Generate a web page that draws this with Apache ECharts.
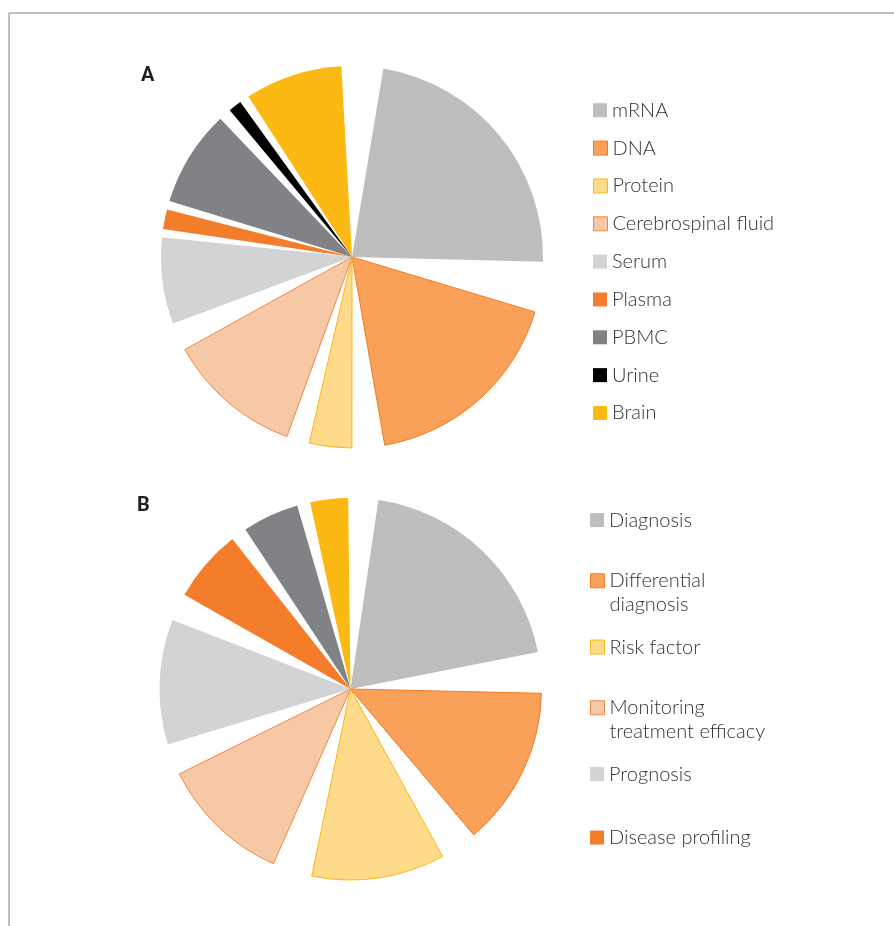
<!DOCTYPE html>
<html>
<head>
<meta charset="utf-8">
<title>Biomarker pies</title>
<script src="https://cdn.jsdelivr.net/npm/echarts@6/dist/echarts.min.js"></script>
<style>
  html, body { margin: 0; padding: 0; background: #fff; }
  #chart { width: 894px; height: 926px; }
</style>
</head>
<body>
<div id="chart"></div>
<script>
// panel A: sample source (values are angles, gaps = empty wedge after each slice)
const sourceNames = ['mRNA', 'DNA', 'Protein', 'Cerebrospinal fluid', 'Serum', 'Plasma', 'PBMC', 'Urine', 'Brain'];
const sourceValues = [82, 63.4, 12.9, 41.1, 26.3, 6, 29.4, 4, 29.7];
const sourceGaps = [15.3, 9.9, 7, 8.6, 2.5, 2.6, 3.8, 2.9, 12.65];

// panel B: purpose (last two slices have their legend cut off in the source)
const purposeNames = ['Diagnosis', 'Differential diagnosis', 'Risk factor', 'Monitoring treatment efficacy',
  'Prognosis', 'Disease profiling', 'Unlabelled 1', 'Unlabelled 2'];
const purposeLabels = ['Diagnosis', 'Differential\ndiagnosis', 'Risk factor', 'Monitoring\ntreatment efficacy',
  'Prognosis', 'Disease profiling'];
const purposeValues = [70.4, 48.5, 40.5, 39.8, 38.1, 22.2, 17.2, 11.5];
const purposeGaps = [12.5, 11.4, 12.1, 9.5, 8.4, 4.8, 4, 9.1];

// slice styles
const GREY = { color: '#bcbec0' };
const ORANGE_LIGHT = { color: '#f9a159', borderColor: '#f47b20', borderWidth: 1 };
const YELLOW_LIGHT = { color: '#fddb8a', borderColor: '#fbb615', borderWidth: 1 };
const PEACH = { color: '#f7c8a6', borderColor: '#f28743', borderWidth: 1 };
const GREY_LIGHT = { color: '#d1d3d4' };
const ORANGE = { color: '#f47d2c' };
const GREY_DARK = { color: '#808285' };
const BLACK = { color: '#000000' };
const YELLOW = { color: '#fdb913' };

const sourceStyles = [GREY, ORANGE_LIGHT, YELLOW_LIGHT, PEACH, GREY_LIGHT, ORANGE, GREY_DARK, BLACK, YELLOW];
const purposeStyles = [GREY, ORANGE_LIGHT, YELLOW_LIGHT, PEACH, GREY_LIGHT, ORANGE, GREY_DARK, YELLOW];

function pieData(prefix, names, values, gaps, styles) {
  const out = [];
  names.forEach(function (n, i) {
    out.push({ name: n, value: values[i], itemStyle: Object.assign({ borderWidth: 0 }, styles[i]) });
    out.push({
      name: prefix + '-gap' + i, value: gaps[i],
      itemStyle: { color: 'transparent', borderWidth: 0 },
      emphasis: { disabled: true }, tooltip: { show: false }
    });
  });
  return out;
}

// one legend per entry so each row sits where the original puts it.
// text is centred on the icon, so two-line labels get an empty first line
// to keep the icon level with the first real line.
const LINE_H = 23.5;
function legendRows(names, labels, styles, left, firstCenter, step) {
  return labels.map(function (label, i) {
    const multi = label.indexOf('\n') >= 0;
    const centre = firstCenter + i * step + (multi ? 2 : 1.75);
    return {
      data: [names[i]],
      left: left,
      top: multi ? centre - 1.5 * LINE_H : centre - 7,
      orient: 'vertical',
      padding: 0,
      icon: 'rect',
      itemWidth: 14,
      itemHeight: 14,
      itemTextGap: 5,
      selectedMode: false,
      itemStyle: { borderWidth: styles[i].borderWidth || 0 },
      formatter: function () { return multi ? '\n' + label : label; },
      textStyle: {
        fontFamily: 'Lato', fontSize: 20, fontWeight: 300, color: '#333',
        lineHeight: multi ? LINE_H : 14
      }
    };
  });
}

const chart = echarts.init(document.getElementById('chart'), null, { renderer: 'canvas' });

chart.setOption({
  animation: false,
  backgroundColor: '#fff',
  title: [
    { text: 'A', left: 141, top: 65.5, padding: 0, textStyle: { fontFamily: 'Roboto', fontSize: 20, fontWeight: 'bold', color: '#231f20' } },
    { text: 'B', left: 137, top: 495.5, padding: 0, textStyle: { fontFamily: 'Roboto', fontSize: 20, fontWeight: 'bold', color: '#231f20' } }
  ],
  legend: legendRows(sourceNames, sourceNames, sourceStyles, 593, 105.5, 37.84)
    .concat(legendRows(purposeNames, purposeLabels, purposeStyles, 590, 515.3, 63.5)),
  graphic: [
    { type: 'line', shape: { x1: 9, y1: 13, x2: 894, y2: 13 }, style: { stroke: '#aaaaaa', lineWidth: 1.5 } },
    { type: 'line', shape: { x1: 9, y1: 13, x2: 9, y2: 926 }, style: { stroke: '#aaaaaa', lineWidth: 1.5 } }
  ],
  series: [
    {
      name: 'Source',
      type: 'pie',
      center: [352, 257],
      radius: [0, 191],
      startAngle: 90 - 9.45,
      clockwise: true,
      label: { show: false },
      labelLine: { show: false },
      itemStyle: { borderWidth: 0 },
      data: pieData('a', sourceNames, sourceValues, sourceGaps, sourceStyles)
    },
    {
      name: 'Purpose',
      type: 'pie',
      center: [350.5, 689],
      radius: [0, 191],
      startAngle: 90 - 8.4,
      clockwise: true,
      label: { show: false },
      labelLine: { show: false },
      itemStyle: { borderWidth: 0 },
      data: pieData('b', purposeNames, purposeValues, purposeGaps, purposeStyles)
    }
  ]
});
</script>
</body>
</html>
